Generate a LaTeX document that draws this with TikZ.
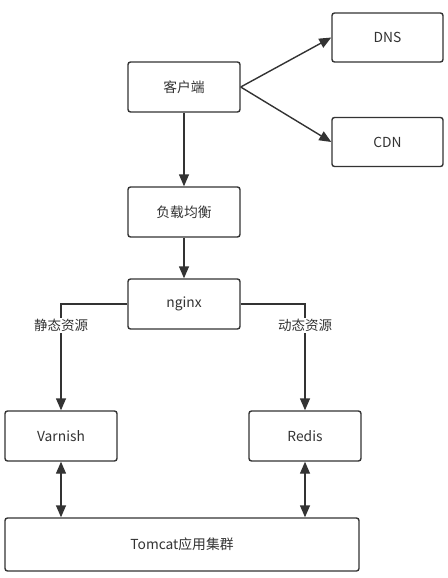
\documentclass[tikz,border=0pt]{standalone}
\usepackage{fontspec}
\setmainfont{Noto Sans CJK SC}
\usetikzlibrary{arrows.meta}
\definecolor{ink}{HTML}{333333}
\begin{document}
\begin{tikzpicture}[x=1pt,y=-1pt,
  box/.style={draw=ink,line width=1.4pt,rounded corners=2.5pt,fill=white,
    minimum width=112pt,minimum height=50pt,inner sep=0pt,
    font=\fontsize{13.8}{16}\selectfont,text=ink},
  conn/.style={draw=ink,line width=1.4pt,-{Triangle[length=12pt,width=10pt]}},
  biconn/.style={draw=ink,line width=1.4pt,{Triangle[length=12pt,width=10pt]}-{Triangle[length=12pt,width=10pt]}},
  lbl/.style={fill=white,inner sep=1pt,font=\fontsize{13.5}{16}\selectfont,text=ink}]
\useasboundingbox (0,0) rectangle (447,578);
\node[box] (client) at (184,87) {客户端};
\node[box,minimum width=111pt,minimum height=49pt] (dns) at (387.5,37.5) {DNS};
\node[box,minimum width=111pt,minimum height=49pt] (cdn) at (387.5,142) {CDN};
\node[box] (lb) at (184,212) {负载均衡};
\node[box] (nginx) at (184,304) {nginx};
\node[box] (varnish) at (61,436) {Varnish};
\node[box] (redis) at (305,436) {Redis};
\node[box,minimum width=354pt,minimum height=53pt] (tomcat) at (182,544.5) {Tomcat应用集群};
\draw[conn] (client.east) -- (dns.west);
\draw[conn] (client.east) -- (cdn.west);
\draw[conn] (client.south) -- (lb.north);
\draw[conn] (lb.south) -- (nginx.north);
\draw[conn] (nginx.west) -| node[lbl,pos=0.6] (lstatic) {静态资源} (varnish.north);
\draw[conn] (nginx.east) -| node[lbl,pos=0.6] (ldyn) {动态资源} (redis.north);
\draw[biconn] (varnish.south) -- (varnish.south |- tomcat.north);
\draw[biconn] (redis.south) -- (redis.south |- tomcat.north);
\end{tikzpicture}
\end{document}
